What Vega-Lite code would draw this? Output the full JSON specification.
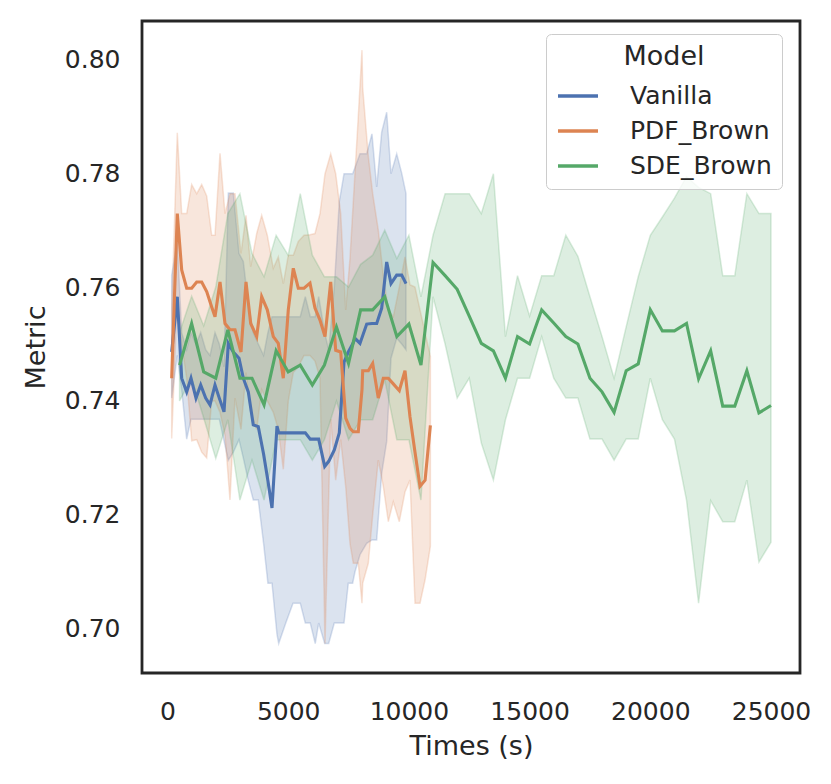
{
  "$schema": "https://vega.github.io/schema/vega-lite/v6.json",
  "autosize": {"type": "none"},
  "width": 658,
  "height": 652,
  "padding": {"left": 142, "top": 21, "right": 31, "bottom": 111},
  "background": "white",
  "config": {
    "font": "DejaVu Sans",
    "view": {"stroke": "#262626", "strokeWidth": 2.8},
    "axis": {"domain": false, "grid": false, "ticks": false, "tickSize": 0, "labelFont": "DejaVu Sans", "labelFontSize": 25, "labelColor": "#262626", "titleFont": "DejaVu Sans", "titleFontSize": 27, "titleFontWeight": "normal", "titleColor": "#262626"}
  },
  "data": {"values": [
    {"Model":"Vanilla","t":174,"m":0.7486,"lo":0.7405,"hi":0.7621},
    {"Model":"Vanilla","t":406,"m":0.7583,"lo":0.7480,"hi":0.7680},
    {"Model":"Vanilla","t":588,"m":0.7440,"lo":0.7419,"hi":0.7520},
    {"Model":"Vanilla","t":795,"m":0.7416,"lo":0.7333,"hi":0.7490},
    {"Model":"Vanilla","t":973,"m":0.7440,"lo":0.7368,"hi":0.7520},
    {"Model":"Vanilla","t":1181,"m":0.7405,"lo":0.7368,"hi":0.7500},
    {"Model":"Vanilla","t":1375,"m":0.7428,"lo":0.7368,"hi":0.7520},
    {"Model":"Vanilla","t":1582,"m":0.7405,"lo":0.7368,"hi":0.7490},
    {"Model":"Vanilla","t":1761,"m":0.7393,"lo":0.7368,"hi":0.7480},
    {"Model":"Vanilla","t":1968,"m":0.7428,"lo":0.7368,"hi":0.7520},
    {"Model":"Vanilla","t":2146,"m":0.7405,"lo":0.7368,"hi":0.7500},
    {"Model":"Vanilla","t":2341,"m":0.7381,"lo":0.7330,"hi":0.7460},
    {"Model":"Vanilla","t":2519,"m":0.7501,"lo":0.7296,"hi":0.7765},
    {"Model":"Vanilla","t":2726,"m":0.7486,"lo":0.7310,"hi":0.7765},
    {"Model":"Vanilla","t":2962,"m":0.7475,"lo":0.7332,"hi":0.7659},
    {"Model":"Vanilla","t":3140,"m":0.7440,"lo":0.7300,"hi":0.7645},
    {"Model":"Vanilla","t":3347,"m":0.7416,"lo":0.7260,"hi":0.7570},
    {"Model":"Vanilla","t":3554,"m":0.7358,"lo":0.7226,"hi":0.7520},
    {"Model":"Vanilla","t":3761,"m":0.7355,"lo":0.7226,"hi":0.7500},
    {"Model":"Vanilla","t":3980,"m":0.7307,"lo":0.7150,"hi":0.7480},
    {"Model":"Vanilla","t":4160,"m":0.7260,"lo":0.7080,"hi":0.7520},
    {"Model":"Vanilla","t":4329,"m":0.7212,"lo":0.7080,"hi":0.7548},
    {"Model":"Vanilla","t":4536,"m":0.7356,"lo":0.6990,"hi":0.7548},
    {"Model":"Vanilla","t":4607,"m":0.7344,"lo":0.6974,"hi":0.7548},
    {"Model":"Vanilla","t":4900,"m":0.7344,"lo":0.7010,"hi":0.7548},
    {"Model":"Vanilla","t":5200,"m":0.7344,"lo":0.7045,"hi":0.7548},
    {"Model":"Vanilla","t":5500,"m":0.7344,"lo":0.7045,"hi":0.7548},
    {"Model":"Vanilla","t":5708,"m":0.7344,"lo":0.7010,"hi":0.7583},
    {"Model":"Vanilla","t":5915,"m":0.7333,"lo":0.7010,"hi":0.7548},
    {"Model":"Vanilla","t":6120,"m":0.7333,"lo":0.6974,"hi":0.7548},
    {"Model":"Vanilla","t":6263,"m":0.7333,"lo":0.7010,"hi":0.7583},
    {"Model":"Vanilla","t":6512,"m":0.7285,"lo":0.6974,"hi":0.7520},
    {"Model":"Vanilla","t":6678,"m":0.7294,"lo":0.6974,"hi":0.7489},
    {"Model":"Vanilla","t":6910,"m":0.7314,"lo":0.7010,"hi":0.7600},
    {"Model":"Vanilla","t":7117,"m":0.7344,"lo":0.7010,"hi":0.7750},
    {"Model":"Vanilla","t":7312,"m":0.7468,"lo":0.7010,"hi":0.7799},
    {"Model":"Vanilla","t":7490,"m":0.7486,"lo":0.7080,"hi":0.7799},
    {"Model":"Vanilla","t":7670,"m":0.7500,"lo":0.7080,"hi":0.7799},
    {"Model":"Vanilla","t":7767,"m":0.7510,"lo":0.7100,"hi":0.7810},
    {"Model":"Vanilla","t":7974,"m":0.7501,"lo":0.7130,"hi":0.7834},
    {"Model":"Vanilla","t":8252,"m":0.7535,"lo":0.7150,"hi":0.7834},
    {"Model":"Vanilla","t":8470,"m":0.7536,"lo":0.7156,"hi":0.7869},
    {"Model":"Vanilla","t":8666,"m":0.7536,"lo":0.7156,"hi":0.7776},
    {"Model":"Vanilla","t":8873,"m":0.7563,"lo":0.7273,"hi":0.7872},
    {"Model":"Vanilla","t":9080,"m":0.7644,"lo":0.7329,"hi":0.7907},
    {"Model":"Vanilla","t":9259,"m":0.7606,"lo":0.7475,"hi":0.7799},
    {"Model":"Vanilla","t":9495,"m":0.7621,"lo":0.7510,"hi":0.7834},
    {"Model":"Vanilla","t":9702,"m":0.7621,"lo":0.7500,"hi":0.7800},
    {"Model":"Vanilla","t":9880,"m":0.7606,"lo":0.7490,"hi":0.7764},

    {"Model":"PDF_Brown","t":174,"m":0.7440,"lo":0.7334,"hi":0.7560},
    {"Model":"PDF_Brown","t":406,"m":0.7729,"lo":0.7580,"hi":0.7871},
    {"Model":"PDF_Brown","t":588,"m":0.7630,"lo":0.7500,"hi":0.7729},
    {"Model":"PDF_Brown","t":795,"m":0.7598,"lo":0.7440,"hi":0.7729},
    {"Model":"PDF_Brown","t":1002,"m":0.7598,"lo":0.7330,"hi":0.7780},
    {"Model":"PDF_Brown","t":1210,"m":0.7609,"lo":0.7332,"hi":0.7764},
    {"Model":"PDF_Brown","t":1417,"m":0.7609,"lo":0.7310,"hi":0.7780},
    {"Model":"PDF_Brown","t":1624,"m":0.7592,"lo":0.7300,"hi":0.7760},
    {"Model":"PDF_Brown","t":1831,"m":0.7565,"lo":0.7400,"hi":0.7691},
    {"Model":"PDF_Brown","t":1968,"m":0.7548,"lo":0.7400,"hi":0.7691},
    {"Model":"PDF_Brown","t":2175,"m":0.7609,"lo":0.7380,"hi":0.7835},
    {"Model":"PDF_Brown","t":2382,"m":0.7536,"lo":0.7340,"hi":0.7729},
    {"Model":"PDF_Brown","t":2589,"m":0.7525,"lo":0.7226,"hi":0.7764},
    {"Model":"PDF_Brown","t":2796,"m":0.7525,"lo":0.7405,"hi":0.7764},
    {"Model":"PDF_Brown","t":3045,"m":0.7486,"lo":0.7350,"hi":0.7659},
    {"Model":"PDF_Brown","t":3252,"m":0.7609,"lo":0.7450,"hi":0.7726},
    {"Model":"PDF_Brown","t":3447,"m":0.7536,"lo":0.7380,"hi":0.7636},
    {"Model":"PDF_Brown","t":3695,"m":0.7513,"lo":0.7350,"hi":0.7694},
    {"Model":"PDF_Brown","t":3902,"m":0.7583,"lo":0.7420,"hi":0.7726},
    {"Model":"PDF_Brown","t":4134,"m":0.7560,"lo":0.7400,"hi":0.7691},
    {"Model":"PDF_Brown","t":4383,"m":0.7513,"lo":0.7380,"hi":0.7633},
    {"Model":"PDF_Brown","t":4590,"m":0.7501,"lo":0.7350,"hi":0.7653},
    {"Model":"PDF_Brown","t":4797,"m":0.7440,"lo":0.7280,"hi":0.7606},
    {"Model":"PDF_Brown","t":5004,"m":0.7560,"lo":0.7400,"hi":0.7656},
    {"Model":"PDF_Brown","t":5211,"m":0.7633,"lo":0.7450,"hi":0.7656},
    {"Model":"PDF_Brown","t":5418,"m":0.7598,"lo":0.7460,"hi":0.7680},
    {"Model":"PDF_Brown","t":5655,"m":0.7598,"lo":0.7480,"hi":0.7691},
    {"Model":"PDF_Brown","t":5903,"m":0.7607,"lo":0.7480,"hi":0.7692},
    {"Model":"PDF_Brown","t":6110,"m":0.7563,"lo":0.7470,"hi":0.7694},
    {"Model":"PDF_Brown","t":6317,"m":0.7542,"lo":0.7440,"hi":0.7729},
    {"Model":"PDF_Brown","t":6525,"m":0.7513,"lo":0.6974,"hi":0.7799},
    {"Model":"PDF_Brown","t":6761,"m":0.7609,"lo":0.7368,"hi":0.7834},
    {"Model":"PDF_Brown","t":6968,"m":0.7489,"lo":0.7261,"hi":0.7799},
    {"Model":"PDF_Brown","t":7175,"m":0.7486,"lo":0.7332,"hi":0.7729},
    {"Model":"PDF_Brown","t":7382,"m":0.7370,"lo":0.7250,"hi":0.7560},
    {"Model":"PDF_Brown","t":7560,"m":0.7352,"lo":0.7150,"hi":0.7650},
    {"Model":"PDF_Brown","t":7697,"m":0.7346,"lo":0.7115,"hi":0.7750},
    {"Model":"PDF_Brown","t":7904,"m":0.7346,"lo":0.7115,"hi":0.7900},
    {"Model":"PDF_Brown","t":8057,"m":0.7420,"lo":0.7045,"hi":0.8016},
    {"Model":"PDF_Brown","t":8086,"m":0.7453,"lo":0.7080,"hi":0.7950},
    {"Model":"PDF_Brown","t":8318,"m":0.7453,"lo":0.7115,"hi":0.7830},
    {"Model":"PDF_Brown","t":8500,"m":0.7466,"lo":0.7200,"hi":0.7764},
    {"Model":"PDF_Brown","t":8732,"m":0.7405,"lo":0.7296,"hi":0.7700},
    {"Model":"PDF_Brown","t":8940,"m":0.7440,"lo":0.7250,"hi":0.7620},
    {"Model":"PDF_Brown","t":9147,"m":0.7440,"lo":0.7188,"hi":0.7560},
    {"Model":"PDF_Brown","t":9354,"m":0.7430,"lo":0.7223,"hi":0.7548},
    {"Model":"PDF_Brown","t":9602,"m":0.7418,"lo":0.7188,"hi":0.7600},
    {"Model":"PDF_Brown","t":9838,"m":0.7453,"lo":0.7240,"hi":0.7653},
    {"Model":"PDF_Brown","t":10046,"m":0.7372,"lo":0.7261,"hi":0.7604},
    {"Model":"PDF_Brown","t":10253,"m":0.7310,"lo":0.7045,"hi":0.7600},
    {"Model":"PDF_Brown","t":10460,"m":0.7250,"lo":0.7045,"hi":0.7560},
    {"Model":"PDF_Brown","t":10671,"m":0.7261,"lo":0.7086,"hi":0.7520},
    {"Model":"PDF_Brown","t":10890,"m":0.7357,"lo":0.7145,"hi":0.7478},

    {"Model":"SDE_Brown","t":500,"m":0.7463,"lo":0.7400,"hi":0.7520},
    {"Model":"SDE_Brown","t":1000,"m":0.7536,"lo":0.7440,"hi":0.7584},
    {"Model":"SDE_Brown","t":1500,"m":0.7451,"lo":0.7370,"hi":0.7532},
    {"Model":"SDE_Brown","t":2000,"m":0.7440,"lo":0.7299,"hi":0.7600},
    {"Model":"SDE_Brown","t":2500,"m":0.7525,"lo":0.7367,"hi":0.7729},
    {"Model":"SDE_Brown","t":3000,"m":0.7440,"lo":0.7226,"hi":0.7764},
    {"Model":"SDE_Brown","t":3500,"m":0.7440,"lo":0.7296,"hi":0.7659},
    {"Model":"SDE_Brown","t":4000,"m":0.7393,"lo":0.7226,"hi":0.7618},
    {"Model":"SDE_Brown","t":4500,"m":0.7488,"lo":0.7332,"hi":0.7691},
    {"Model":"SDE_Brown","t":5000,"m":0.7451,"lo":0.7332,"hi":0.7656},
    {"Model":"SDE_Brown","t":5500,"m":0.7463,"lo":0.7332,"hi":0.7764},
    {"Model":"SDE_Brown","t":6000,"m":0.7428,"lo":0.7296,"hi":0.7656},
    {"Model":"SDE_Brown","t":6500,"m":0.7463,"lo":0.7332,"hi":0.7618},
    {"Model":"SDE_Brown","t":7000,"m":0.7530,"lo":0.7400,"hi":0.7618},
    {"Model":"SDE_Brown","t":7500,"m":0.7466,"lo":0.7332,"hi":0.7600},
    {"Model":"SDE_Brown","t":8000,"m":0.7560,"lo":0.7367,"hi":0.7640},
    {"Model":"SDE_Brown","t":8500,"m":0.7560,"lo":0.7367,"hi":0.7656},
    {"Model":"SDE_Brown","t":9000,"m":0.7583,"lo":0.7437,"hi":0.7700},
    {"Model":"SDE_Brown","t":9500,"m":0.7513,"lo":0.7332,"hi":0.7650},
    {"Model":"SDE_Brown","t":10000,"m":0.7535,"lo":0.7332,"hi":0.7691},
    {"Model":"SDE_Brown","t":10500,"m":0.7463,"lo":0.7226,"hi":0.7583},
    {"Model":"SDE_Brown","t":11000,"m":0.7643,"lo":0.7583,"hi":0.7691},
    {"Model":"SDE_Brown","t":11500,"m":0.7620,"lo":0.7500,"hi":0.7764},
    {"Model":"SDE_Brown","t":12000,"m":0.7596,"lo":0.7405,"hi":0.7764},
    {"Model":"SDE_Brown","t":12500,"m":0.7549,"lo":0.7440,"hi":0.7764},
    {"Model":"SDE_Brown","t":13000,"m":0.7501,"lo":0.7326,"hi":0.7729},
    {"Model":"SDE_Brown","t":13500,"m":0.7488,"lo":0.7261,"hi":0.7799},
    {"Model":"SDE_Brown","t":14000,"m":0.7440,"lo":0.7367,"hi":0.7513},
    {"Model":"SDE_Brown","t":14500,"m":0.7513,"lo":0.7440,"hi":0.7620},
    {"Model":"SDE_Brown","t":15000,"m":0.7500,"lo":0.7440,"hi":0.7549},
    {"Model":"SDE_Brown","t":15500,"m":0.7560,"lo":0.7513,"hi":0.7620},
    {"Model":"SDE_Brown","t":16000,"m":0.7537,"lo":0.7440,"hi":0.7620},
    {"Model":"SDE_Brown","t":16500,"m":0.7513,"lo":0.7405,"hi":0.7691},
    {"Model":"SDE_Brown","t":17000,"m":0.7500,"lo":0.7405,"hi":0.7654},
    {"Model":"SDE_Brown","t":17500,"m":0.7440,"lo":0.7333,"hi":0.7583},
    {"Model":"SDE_Brown","t":18000,"m":0.7416,"lo":0.7333,"hi":0.7513},
    {"Model":"SDE_Brown","t":18500,"m":0.7380,"lo":0.7296,"hi":0.7440},
    {"Model":"SDE_Brown","t":19000,"m":0.7453,"lo":0.7333,"hi":0.7530},
    {"Model":"SDE_Brown","t":19500,"m":0.7465,"lo":0.7333,"hi":0.7618},
    {"Model":"SDE_Brown","t":20000,"m":0.7560,"lo":0.7440,"hi":0.7691},
    {"Model":"SDE_Brown","t":20500,"m":0.7523,"lo":0.7367,"hi":0.7723},
    {"Model":"SDE_Brown","t":21000,"m":0.7523,"lo":0.7333,"hi":0.7756},
    {"Model":"SDE_Brown","t":21500,"m":0.7536,"lo":0.7226,"hi":0.7794},
    {"Model":"SDE_Brown","t":22000,"m":0.7439,"lo":0.7045,"hi":0.7775},
    {"Model":"SDE_Brown","t":22500,"m":0.7488,"lo":0.7225,"hi":0.7764},
    {"Model":"SDE_Brown","t":23000,"m":0.7391,"lo":0.7188,"hi":0.7620},
    {"Model":"SDE_Brown","t":23500,"m":0.7391,"lo":0.7188,"hi":0.7620},
    {"Model":"SDE_Brown","t":24000,"m":0.7453,"lo":0.7261,"hi":0.7764},
    {"Model":"SDE_Brown","t":24500,"m":0.7379,"lo":0.7117,"hi":0.7729},
    {"Model":"SDE_Brown","t":25000,"m":0.7392,"lo":0.7152,"hi":0.7729}
  ]},
  "encoding": {
    "x": {"field": "t", "type": "quantitative", "title": "Times (s)",
      "scale": {"domain": [-1056, 26201], "nice": false, "zero": false},
      "axis": {"values": [0, 5000, 10000, 15000, 20000, 25000], "format": "d", "labelPadding": 26, "titlePadding": 9}}
  },
  "layer": [
    {
      "mark": {"type": "area", "fillOpacity": 0.2, "strokeOpacity": 0.22, "strokeWidth": 1.5},
      "encoding": {
        "y": {"field": "lo", "type": "quantitative", "title": "Metric",
          "scale": {"domain": [0.69223, 0.80672], "nice": false, "zero": false},
          "axis": {"values": [0.70, 0.72, 0.74, 0.76, 0.78, 0.80], "format": ".2f", "labelPadding": 22, "titlePadding": 14}},
        "y2": {"field": "hi"},
        "color": {"field": "Model", "type": "nominal",
          "scale": {"domain": ["Vanilla", "PDF_Brown", "SDE_Brown"], "range": ["#4c72b0", "#dd8452", "#55a868"]}},
        "stroke": {"field": "Model", "type": "nominal", "legend": null,
          "scale": {"domain": ["Vanilla", "PDF_Brown", "SDE_Brown"], "range": ["#4c72b0", "#dd8452", "#55a868"]}}
      }
    },
    {
      "mark": {"type": "line", "strokeWidth": 3.1},
      "encoding": {
        "y": {"field": "m", "type": "quantitative"},
        "color": {"field": "Model", "type": "nominal",
          "scale": {"domain": ["Vanilla", "PDF_Brown", "SDE_Brown"], "range": ["#4c72b0", "#dd8452", "#55a868"]},
          "legend": {"title": "Model", "orient": "none", "legendX": 404, "legendY": 13,
            "symbolType": "stroke", "symbolSize": 1600, "symbolStrokeWidth": 3.4, "symbolOpacity": 1,
            "labelFontSize": 25, "labelFont": "DejaVu Sans", "labelColor": "#262626", "labelOffset": 30,
            "titleFontSize": 27, "titleFont": "DejaVu Sans", "titleFontWeight": "normal", "titleColor": "#262626",
            "titleAnchor": "middle", "titlePadding": 3,
            "rowPadding": 0, "padding": 10, "cornerRadius": 5,
            "strokeColor": "#cccccc", "fillColor": "rgba(255,255,255,0.8)"}}
      }
    }
  ]
}
